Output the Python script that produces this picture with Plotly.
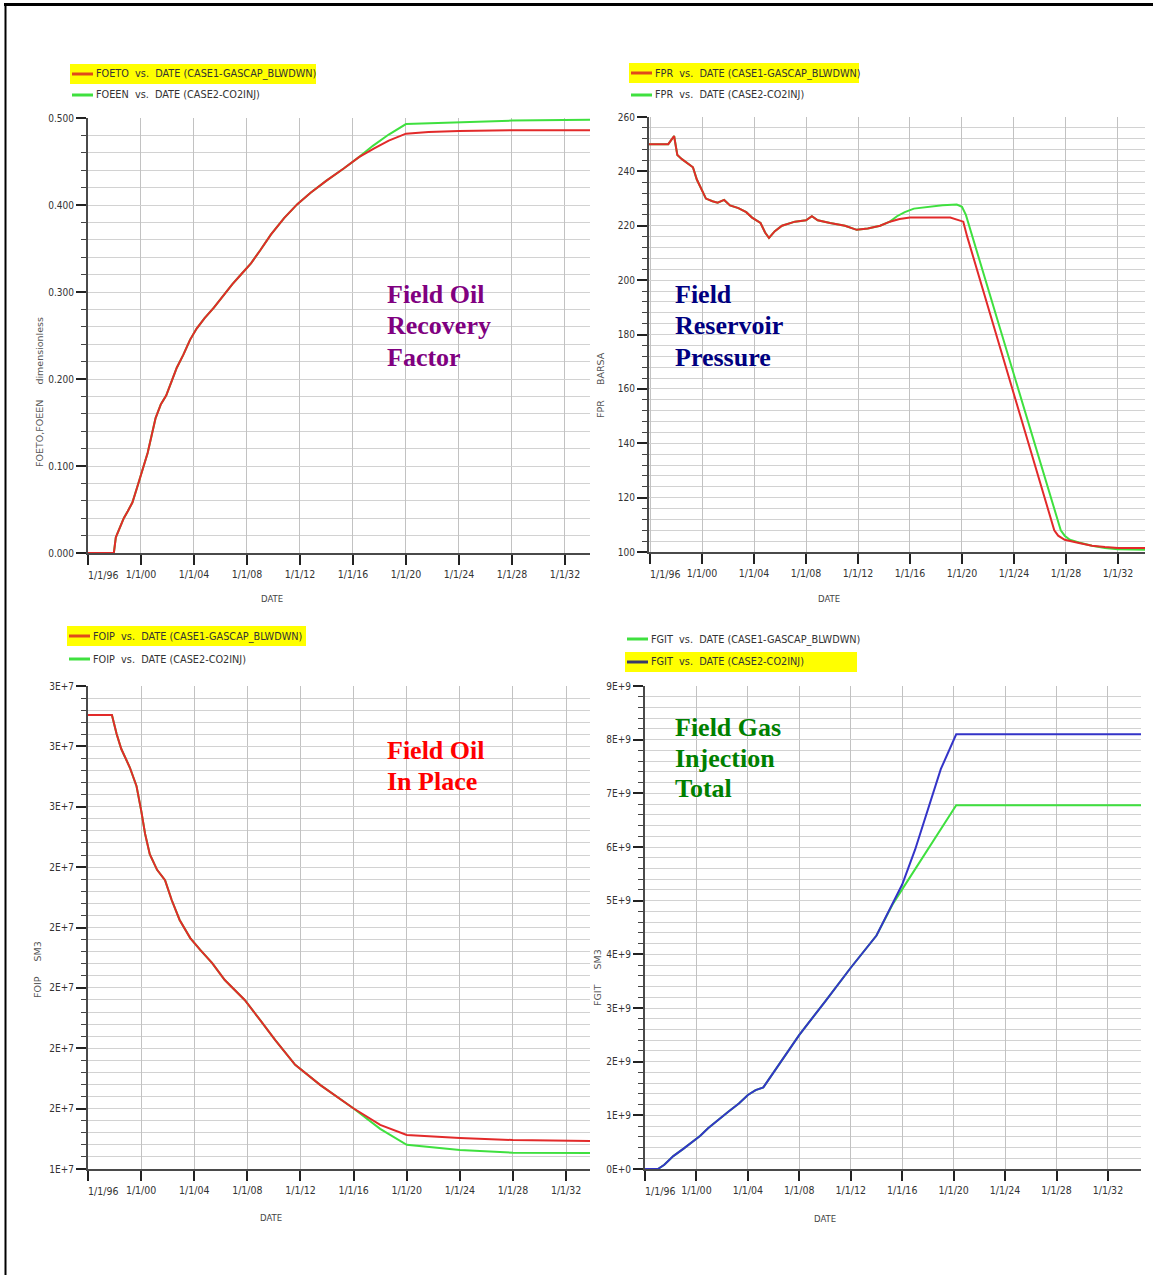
import datetime as dt
import plotly.graph_objects as go

# ---------------------------------------------------------------- data
# Field oil recovery factor (decimal year, value)
FOETO_YEAR = [1996.0, 1997.95, 1998.1, 1998.4, 1998.7, 1999.0, 1999.35, 1999.7, 2000.1, 2000.5,
              2000.8, 2001.1, 2001.5, 2001.9, 2002.3, 2002.7, 2003.2, 2003.7, 2004.2, 2004.8,
              2005.5, 2006.2, 2006.9, 2007.6, 2008.3, 2009.0, 2009.8, 2010.8, 2011.8, 2012.8,
              2014.0, 2015.3, 2016.45, 2017.6, 2018.7, 2020.0, 2021.7, 2024.0, 2028.0, 2033.9]
FOETO_VAL = [0.0, 0.0, 0.018, 0.03, 0.04, 0.048, 0.058, 0.075, 0.095, 0.115,
             0.135, 0.155, 0.171, 0.181, 0.197, 0.213, 0.228, 0.245, 0.258, 0.27,
             0.282, 0.296, 0.309, 0.321, 0.333, 0.348, 0.366, 0.385, 0.401, 0.414,
             0.428, 0.442, 0.455, 0.465, 0.474, 0.482, 0.484, 0.485, 0.486, 0.486]
FOEEN_YEAR = FOETO_YEAR[:33] + [2017.5, 2018.7, 2020.0, 2022.0, 2024.0, 2028.0, 2033.9]
FOEEN_VAL = FOETO_VAL[:33] + [0.468, 0.481, 0.493, 0.494, 0.495, 0.497, 0.498]

# Field reservoir pressure, BARSA
FPR1_YEAR = [1995.92, 1997.4, 1997.85, 1998.1, 1998.45, 1998.9, 1999.3, 1999.6, 2000.0, 2000.3,
             2000.8, 2001.2, 2001.7, 2002.15, 2002.8, 2003.4, 2003.85, 2004.5, 2004.85, 2005.15,
             2005.6, 2006.15, 2007.15, 2008.0, 2008.45, 2008.9, 2009.85, 2011.0, 2011.9, 2012.75,
             2013.7, 2014.45, 2015.2, 2016.0, 2019.1, 2019.7, 2020.1, 2020.4, 2027.1, 2027.4,
             2027.9, 2029.0, 2030.0, 2031.0, 2032.0, 2034.1]
FPR1_VAL = [250.0, 250.0, 253.0, 246.0, 244.5, 243.0, 241.5, 237.0, 233.0, 230.0,
            229.0, 228.5, 229.5, 227.5, 226.5, 225.0, 223.0, 221.0, 217.5, 215.5,
            218.0, 220.0, 221.5, 222.0, 223.5, 222.0, 221.0, 220.0, 218.5, 219.0,
            220.0, 221.5, 222.5, 223.0, 223.0, 222.0, 221.5, 216.0, 108.0, 106.0,
            104.5, 103.3, 102.3, 101.8, 101.5, 101.5]
FPR2_YEAR = FPR1_YEAR[:32] + [2015.0, 2015.6, 2016.3, 2017.5, 2018.5, 2019.6, 2020.0, 2020.3,
                              2027.6, 2027.9, 2028.3, 2029.0, 2030.0, 2031.0, 2032.0, 2034.1]
FPR2_VAL = FPR1_VAL[:32] + [223.5, 225.0, 226.3, 227.0, 227.5, 227.8, 227.0, 224.0,
                            108.0, 106.0, 104.5, 103.5, 102.3, 101.5, 101.0, 100.8]

# Field oil in place, SM3
FOIP1_YEAR = [1996.0, 1997.8, 1998.15, 1998.5, 1999.15, 1999.65, 2000.0, 2000.3, 2000.65, 2001.2,
              2001.8, 2002.3, 2002.9, 2003.7, 2004.45, 2005.35, 2006.3, 2007.8, 2008.95, 2010.1,
              2011.6, 2013.5, 2015.95, 2018.0, 2020.0, 2024.0, 2028.0, 2033.8]
FOIP1_VAL = [2.904e7, 2.904e7, 2.842e7, 2.792e7, 2.73e7, 2.669e7, 2.589e7, 2.51e7, 2.443e7, 2.391e7,
             2.357e7, 2.291e7, 2.225e7, 2.165e7, 2.126e7, 2.082e7, 2.026e7, 1.96e7, 1.894e7, 1.827e7,
             1.745e7, 1.678e7, 1.602e7, 1.546e7, 1.513e7, 1.503e7, 1.496e7, 1.493e7]
FOIP2_YEAR = FOIP1_YEAR[:23] + [2018.0, 2020.0, 2024.0, 2028.0, 2033.8]
FOIP2_VAL = FOIP1_VAL[:23] + [1.533e7, 1.48e7, 1.463e7, 1.454e7, 1.453e7]

# Field gas injection total, SM3
FGIT_COMMON_YEAR = [1996.0, 1997.0, 1997.5, 1998.2, 1999.0, 1999.7, 2000.3, 2000.9, 2001.6, 2002.5,
                    2003.3, 2004.0, 2004.6, 2005.2, 2006.0, 2007.0, 2008.0, 2010.0, 2012.0, 2014.0,
                    2015.3]
FGIT_COMMON_VAL = [0.0, 0.0, 0.08e9, 0.24e9, 0.38e9, 0.5e9, 0.62e9, 0.76e9, 0.9e9, 1.07e9,
                   1.22e9, 1.38e9, 1.47e9, 1.52e9, 1.8e9, 2.15e9, 2.5e9, 3.12e9, 3.75e9, 4.35e9,
                   4.95e9]
FGIT1_YEAR = FGIT_COMMON_YEAR + [2020.2, 2034.6]
FGIT1_VAL = FGIT_COMMON_VAL + [6.78e9, 6.78e9]
FGIT2_YEAR = FGIT_COMMON_YEAR + [2016.0, 2017.0, 2018.0, 2019.0, 2020.2, 2034.6]
FGIT2_VAL = FGIT_COMMON_VAL + [5.3e9, 5.95e9, 6.7e9, 7.45e9, 8.1e9, 8.1e9]

# axis ticks and their labels
X_TICK_YEARS = [1996, 2000, 2004, 2008, 2012, 2016, 2020, 2024, 2028, 2032]
X_TICK_TEXT = ["1/1/96", "1/1/00", "1/1/04", "1/1/08", "1/1/12",
               "1/1/16", "1/1/20", "1/1/24", "1/1/28", "1/1/32"]
FOIP_TICKS = [1.4e7, 1.6e7, 1.8e7, 2.0e7, 2.2e7, 2.4e7, 2.6e7, 2.8e7, 3.0e7]
FOIP_TICK_TEXT = ["1E+7", "2E+7", "2E+7", "2E+7", "2E+7", "2E+7", "3E+7", "3E+7", "3E+7"]
FGIT_TICKS = [0, 1e9, 2e9, 3e9, 4e9, 5e9, 6e9, 7e9, 8e9, 9e9]
FGIT_TICK_TEXT = ["0E+0", "1E+9", "2E+9", "3E+9", "4E+9", "5E+9", "6E+9", "7E+9", "8E+9", "9E+9"]

CASE1 = "CASE1-GASCAP_BLWDWN"
CASE2 = "CASE2-CO2INJ"

# ---------------------------------------------------------------- helpers
W, H = 1153, 1275
RED, GREEN, BLUE = "#e22a2a", "#3fe03f", "#3434c8"
NARROW = "Liberation Sans Narrow, DejaVu Sans Condensed, Arial Narrow, sans-serif"
SERIF = "Liberation Serif, Times New Roman, serif"
NB = "\u00a0"


def to_date(y):
    year = int(y)
    start = dt.datetime(year, 1, 1)
    return start + (dt.datetime(year + 1, 1, 1) - start) * (y - year)


def dates(years):
    return [to_date(y) for y in years]


def fx(p):
    return p / W


def fy(p):
    return 1 - p / H


fig = go.Figure()

# panel geometry in pixels: (left, right, top, bottom, x range in years)
PANELS = [
    (88, 590, 118, 553, (1996.0, 2033.89)),
    (649, 1145, 117, 552, (1995.92, 2034.08)),
    (88, 590, 686, 1169, (1996.0, 2033.8)),
    (645, 1141, 686, 1169, (1996.0, 2034.57)),
]

series = [
    (1, FOETO_YEAR, FOETO_VAL, RED, "FOETO"),
    (1, FOEEN_YEAR, FOEEN_VAL, GREEN, "FOEEN"),
    (2, FPR1_YEAR, FPR1_VAL, RED, "FPR " + CASE1),
    (2, FPR2_YEAR, FPR2_VAL, GREEN, "FPR " + CASE2),
    (3, FOIP1_YEAR, FOIP1_VAL, RED, "FOIP " + CASE1),
    (3, FOIP2_YEAR, FOIP2_VAL, GREEN, "FOIP " + CASE2),
    (4, FGIT1_YEAR, FGIT1_VAL, GREEN, "FGIT " + CASE1),
    (4, FGIT2_YEAR, FGIT2_VAL, BLUE, "FGIT " + CASE2),
]
# green curves go underneath where red shares their path
order = [1, 0, 3, 2, 5, 4, 6, 7]
for i in order:
    k, xs, ys, col, name = series[i]
    suffix = "" if k == 1 else str(k)
    fig.add_trace(go.Scatter(x=dates(xs), y=ys, mode="lines", name=name,
                             line=dict(color=col, width=2),
                             xaxis="x" + suffix, yaxis="y" + suffix, showlegend=False))

x_tick_font = dict(family=NARROW, size=10.5, color="#333333")
y_tick_font = dict(family=NARROW, size=10, color="#333333")
VGRID = "#c2c2c2"
HGRID = "#d2d2d2"
AXIS = "#4a4a4a"

y_specs = [
    dict(range=[0, 0.5], dtick=0.1, tick0=0, tickformat=".3f",
         minor=dict(dtick=0.02, tick0=0)),
    dict(range=[100, 260], dtick=20, tick0=100, tickformat="d",
         minor=dict(dtick=4, tick0=100)),
    dict(range=[1.4e7, 3.0e7], tickmode="array", tickvals=FOIP_TICKS, ticktext=FOIP_TICK_TEXT,
         minor=dict(tickmode="linear", dtick=4e5, tick0=1.4e7)),
    dict(range=[0, 9e9], tickmode="array", tickvals=FGIT_TICKS, ticktext=FGIT_TICK_TEXT,
         minor=dict(tickmode="linear", dtick=2e8, tick0=0)),
]

annotations = []
shapes = []

# the first date label sits to the right of its tick, the rest are centred
x_tick_text = [""] + X_TICK_TEXT[1:]

layout = {}
for n, (l, r, t, b, (x0, x1)) in enumerate(PANELS):
    suffix = "" if n == 0 else str(n + 1)
    layout["xaxis" + suffix] = dict(
        domain=[fx(l), fx(r)], range=[to_date(x0), to_date(x1)],
        anchor="y" + suffix, type="date", tickmode="array",
        tickvals=[to_date(y) for y in X_TICK_YEARS], ticktext=x_tick_text,
        ticks="outside", ticklen=10, tickwidth=2, tickcolor="#222",
        showgrid=True, gridcolor=VGRID, gridwidth=1, showline=True, linecolor=AXIS,
        linewidth=2, zeroline=False, tickfont=x_tick_font, fixedrange=True, automargin=False,
    )
    annotations.append(dict(xref="x" + suffix, yref="paper", x=to_date(X_TICK_YEARS[0]),
                            y=fy(b + 21.5), xanchor="left", yanchor="middle", xshift=-2,
                            showarrow=False, text=X_TICK_TEXT[0], font=x_tick_font))
    ys = y_specs[n]
    minor = dict(ticks="outside", ticklen=5, tickcolor="#444", tickwidth=1,
                 showgrid=True, gridcolor=HGRID, gridwidth=1)
    minor.update(ys.pop("minor"))
    layout["yaxis" + suffix] = dict(
        domain=[fy(b), fy(t)], anchor="x" + suffix, ticks="outside", ticklen=10,
        tickwidth=2, tickcolor="#222", showgrid=True, gridcolor=HGRID, gridwidth=1,
        showline=True, linecolor=AXIS, linewidth=2, zeroline=False,
        tickfont=y_tick_font, minor=minor, fixedrange=True, automargin=False, **ys,
    )


def legend_row(x_line, y, color, text, highlight=None):
    if highlight:
        hx0, hx1 = highlight
        shapes.append(dict(type="rect", xref="paper", yref="paper", layer="below",
                           x0=fx(hx0), x1=fx(hx1), y0=fy(y + 10), y1=fy(y - 10),
                           fillcolor="#ffff00", line=dict(width=0)))
    shapes.append(dict(type="line", xref="paper", yref="paper",
                       x0=fx(x_line), x1=fx(x_line + 21), y0=fy(y), y1=fy(y),
                       line=dict(color=color, width=3)))
    annotations.append(dict(xref="paper", yref="paper", x=fx(x_line + 22), y=fy(y),
                            xanchor="left", yanchor="middle", showarrow=False, text=text,
                            font=dict(family=NARROW, size=10.8, color="#333333")))


def vs(quantity, case):
    return f"{quantity}{NB}{NB}vs.{NB}{NB}DATE ({case})"


legend_row(72, 74, "#e04a1a", vs("FOETO", CASE1), highlight=(70, 316))
legend_row(72, 95, GREEN, vs("FOEEN", CASE2))
legend_row(631, 73, "#e04a1a", vs("FPR", CASE1), highlight=(629, 859))
legend_row(631, 95, GREEN, vs("FPR", CASE2))
legend_row(69, 636, "#e04a1a", vs("FOIP", CASE1), highlight=(67, 306))
legend_row(69, 659, GREEN, vs("FOIP", CASE2))
legend_row(627, 639, GREEN, vs("FGIT", CASE1))
legend_row(627, 662, "#3a3a6a", vs("FGIT", CASE2), highlight=(625, 857))

# big panel captions
captions = [
    (385, [294, 326, 357], ["Field Oil", "Recovery", "Factor"], "#800080"),
    (673, [294, 326, 357], ["Field", "Reservoir", "Pressure"], "#000080"),
    (385, [750, 782], ["Field Oil", "In Place"], "#ff0000"),
    (673, [727, 758, 789], ["Field Gas", "Injection", "Total"], "#008000"),
]
for x, ylist, lines, col in captions:
    for y, txt in zip(ylist, lines):
        annotations.append(dict(xref="paper", yref="paper", x=fx(x), y=fy(y),
                                xanchor="left", yanchor="middle", showarrow=False,
                                text=f"<b>{txt}</b>",
                                font=dict(family=SERIF, size=26, color=col)))

# axis titles
small = dict(family=NARROW, size=9.5, color="#444444")
for x, y, txt in [(272, 599, "DATE"), (829, 598, "DATE"), (271, 1217, "DATE"), (825, 1218, "DATE")]:
    annotations.append(dict(xref="paper", yref="paper", x=fx(x), y=fy(y), showarrow=False,
                            xanchor="center", yanchor="middle", text=txt, font=small))
side = dict(family="DejaVu Sans, sans-serif", size=9.5, color="#555555")
for x, y, txt in [(40, 392, f"FOETO,FOEEN{NB * 5}dimensionless"),
                  (600, 385, f"FPR{NB * 5}BARSA"),
                  (37, 970, f"FOIP{NB * 5}SM3"),
                  (597, 978, f"FGIT{NB * 5}SM3")]:
    annotations.append(dict(xref="paper", yref="paper", x=fx(x), y=fy(y), showarrow=False,
                            xanchor="center", yanchor="middle", textangle=-90,
                            text=txt, font=side))

# page frame
shapes.append(dict(type="line", xref="paper", yref="paper", x0=fx(4), x1=1.0,
                   y0=fy(4.5), y1=fy(4.5), line=dict(color="#000", width=3)))
shapes.append(dict(type="line", xref="paper", yref="paper", x0=fx(5.5), x1=fx(5.5),
                   y0=fy(3), y1=0.0, line=dict(color="#000", width=2)))

fig.update_layout(
    width=W, height=H, margin=dict(l=0, r=0, t=0, b=0, autoexpand=False),
    paper_bgcolor="white", plot_bgcolor="white",
    annotations=annotations, shapes=shapes, showlegend=False, **layout,
)

fig.write_html("out.html", config={"displayModeBar": False})
